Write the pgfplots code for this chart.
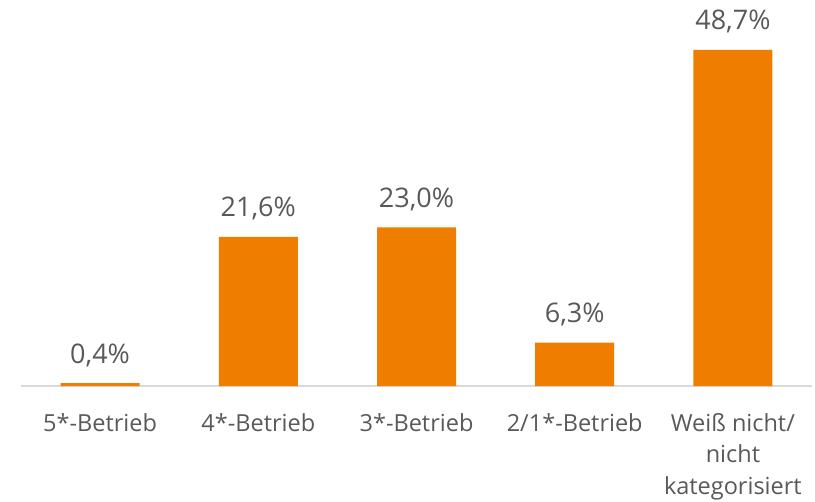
\documentclass[border=0pt]{standalone}
\usepackage{pgfplots}
\pgfplotsset{compat=1.18}
\usepackage{fontspec}
\setmainfont{Open Sans}
\definecolor{barorange}{HTML}{EF7D00}
\definecolor{txtgray}{HTML}{595959}
\definecolor{axgray}{HTML}{D9D9D9}
\begin{document}
\begin{tikzpicture}
\begin{axis}[
  scale only axis,
  width=791bp, height=386bp,
  xmin=-0.5, xmax=4.5,
  ymin=0, ymax=55.94,
  axis y line=none,
  axis x line*=bottom,
  x axis line style={-, draw=axgray, line width=1.5bp},
  xtick=data,
  xticklabels={5*-Betrieb,4*-Betrieb,3*-Betrieb,2/1*-Betrieb,{Weiß nicht/\\nicht\\kategorisiert}},
  major tick length=0pt,
  xtick style={draw=none},
  xticklabel style={anchor=north, inner sep=0pt, yshift=-27bp, align=center, text=txtgray,
    font=\fontsize{23.5bp}{31.5bp}\selectfont},
  ybar, bar width=79bp,
  clip=false,
  nodes near coords={\pgfmathprintnumber[fixed,fixed zerofill,precision=1,use comma,assume math mode=true]{\pgfplotspointmeta}\%},
  every node near coord/.append style={anchor=base, inner sep=0pt, yshift=20bp, text=txtgray,
    font=\fontsize{27bp}{30bp}\selectfont},
]
\addplot[fill=barorange, draw=none] coordinates {(0,0.4) (1,21.6) (2,23.0) (3,6.3) (4,48.7)};
\path (rel axis cs:0,0) ++(-21bp,-116bp) rectangle ++(815bp,502bp);
\end{axis}
\end{tikzpicture}
\end{document}
